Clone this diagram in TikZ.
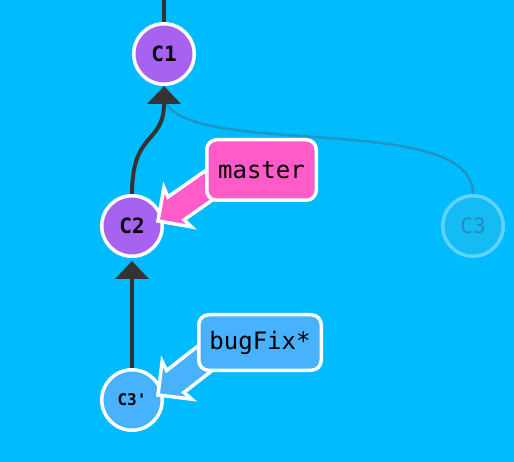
\documentclass[tikz,border=0pt]{standalone}
\usepackage{fontspec}
\usetikzlibrary{arrows.meta}
\newfontfamily\gitmono{DejaVu Sans Mono}[Ligatures=TeXOff]
\definecolor{bgc}{RGB}{0,188,255}
\definecolor{purplec}{RGB}{168,98,240}
\definecolor{pinkc}{RGB}{255,92,201}
\definecolor{lbluec}{RGB}{72,178,255}
\definecolor{edgec}{RGB}{51,51,51}
\definecolor{faintline}{RGB}{30,150,200}
\definecolor{faintfill}{RGB}{20,188,243}
\definecolor{faintdraw}{RGB}{95,210,255}
\definecolor{fainttext}{RGB}{35,140,185}
\newcommand\gitarrow[3]{%
  \begin{scope}[shift={#1}, rotate=#2]
    \draw[line width=3.5pt, draw=white, fill=#3, line join=miter]
      (0,0) -- (-24,24) -- (-22,14) -- (-80,14) -- (-80,-14) -- (-22,-14) -- (-24,-24) -- cycle;
  \end{scope}}
\begin{document}
\begin{tikzpicture}[x=1pt,y=-1pt,
  commit/.style={circle, minimum size=60.5pt, inner sep=0pt, line width=3.5pt, draw=white, fill=purplec,
    font=\gitmono\bfseries\fontsize{21}{21}\selectfont},
  ghost/.style={commit, draw=faintdraw, fill=faintfill, text=fainttext, font=\gitmono\fontsize{21}{21}\selectfont},
  branchbox/.style={rectangle, rounded corners=10pt, line width=3.5pt, draw=white, inner sep=0pt,
    font=\gitmono\fontsize{24}{24}\selectfont},
  edge/.style={draw=edgec, line width=4pt, -{Triangle[width=33pt,length=18pt]}},
  plainedge/.style={draw=edgec, line width=4pt},
  faintedge/.style={draw=faintline, line width=2.5pt}]
\fill[bgc] (0,0) rectangle (514,462);
\useasboundingbox (0,0) rectangle (514,462);

% commits
\node[commit] (C1) at (164,54) {C1};
\node[commit] (C2) at (132,226) {C2};
\node[ghost] (C3) at (473,226) {C3};
\node[commit, fill=lbluec, font=\gitmono\bfseries\fontsize{16}{16}\selectfont] (C3p) at (132,400) {C3'};
\coordinate (top) at (164,0);

% faint orphan edge
\path[faintedge] ([yshift=-14pt]C1.south) .. controls (190,160) and (473,110) .. (C3.north);

% edges
\draw[plainedge] (C1.north) -- (top);
\draw[edge] (C2.north) .. controls (132,130) and (164,145) .. (C1.south);
\draw[edge] (C3p.north) -- ([yshift=-3pt]C2.south);

% branch labels
\gitarrow{(158,221)}{215}{pinkc}
\node[branchbox, fill=pinkc, minimum width=109.5pt, minimum height=60.5pt] (master) at (261.5,170) {master};
\gitarrow{(158,395)}{218}{lbluec}
\node[branchbox, fill=lbluec, minimum width=122.5pt, minimum height=55.5pt] (bugFix) at (260,342.5) {bugFix*};
\end{tikzpicture}
\end{document}
